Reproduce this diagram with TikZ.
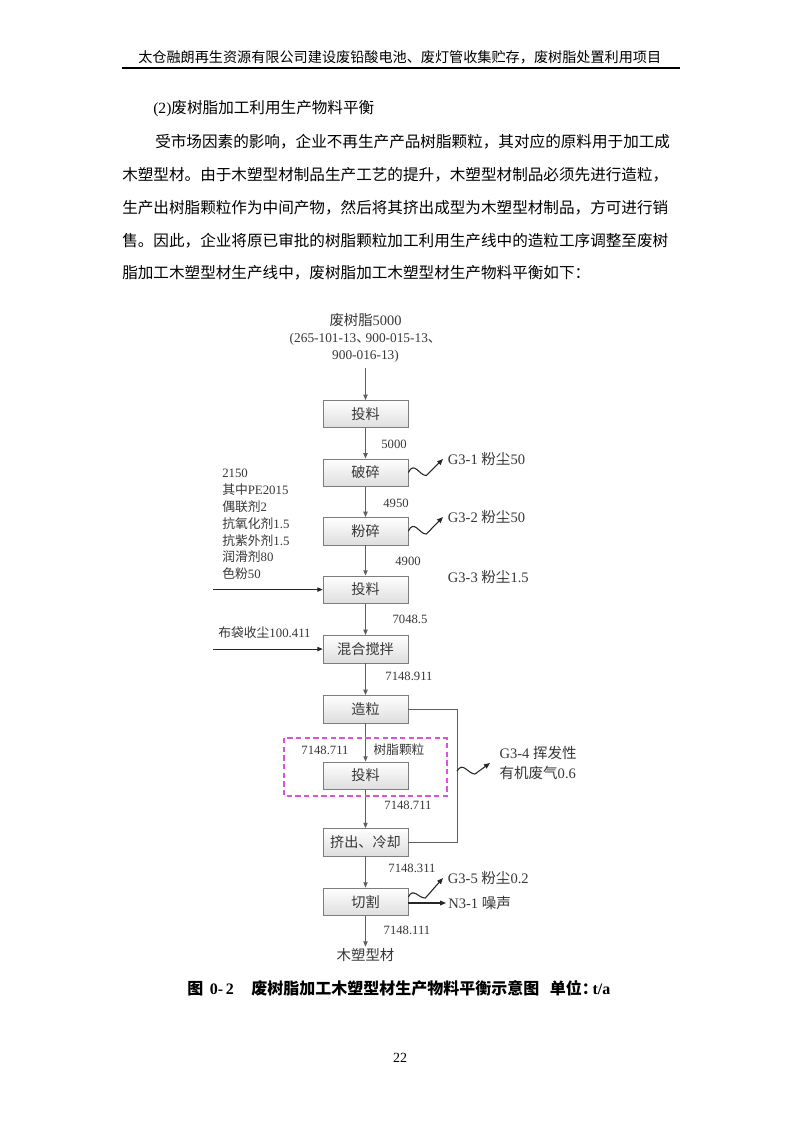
\documentclass[tikz,border=0pt]{standalone}
\usepackage{fontspec}
\setmainfont{Liberation Serif}
\newfontfamily\cjk{Noto Sans CJK SC}
\newcommand{\zh}[1]{{\cjk #1}}
\usepackage{tikz}
\usetikzlibrary{arrows.meta,positioning}
\definecolor{linegray}{RGB}{95,95,95}
\definecolor{textgray}{RGB}{55,55,55}
\definecolor{boxedge}{RGB}{125,125,125}
\definecolor{markpink}{RGB}{222,80,222}

\begin{document}
\begin{tikzpicture}[x=0.75pt, y=-0.75pt,
  procbox/.style={rectangle, draw=boxedge, top color=white, bottom color=black!13,
                  minimum width=63.75pt, minimum height=20.6pt, inner sep=0pt,
                  font=\fontsize{10.6}{12}\selectfont\cjk, text=textgray},
  num/.style={font=\fontsize{9.5}{11}\selectfont, text=textgray, inner sep=1pt},
  gas/.style={font=\fontsize{10.9}{15}\selectfont, text=textgray, anchor=west,
              align=left, inner xsep=3.5pt, inner ysep=1pt},
  flow/.style={-{Triangle[length=4pt,width=3.2pt]}, draw=linegray, line width=0.75pt},
  emit/.style={-{Triangle[length=4.5pt,width=3.6pt]}, draw=black!85, line width=0.8pt},
  body/.style={anchor=west, inner sep=0pt, font=\fontsize{11.7}{14}\selectfont}
]
  \fill[white] (0,0) rectangle (800,1131);
  \useasboundingbox (0,0) rectangle (800,1131);

  % page header
  \node[anchor=west, inner sep=0pt, font=\fontsize{10.6}{12}\selectfont\cjk] (hdr) at (138,57)
    {太仓融朗再生资源有限公司建设废铅酸电池、废灯管收集贮存，废树脂处置利用项目};
  \draw[line width=0.8pt] (122,68) -- (680,68);

  % text above the figure
  \node[body] (ttl) at (153,109) {(2)\zh{废树脂加工利用生产物料平衡}};
  \node[body] (p1) at (155,142) {\zh{受市场因素的影响，企业不再生产产品树脂颗粒，其对应的原料用于加工成}};
  \node[body] (p2) at (122,175) {\zh{木塑型材。由于木塑型材制品生产工艺的提升，木塑型材制品必须先进行造粒，}};
  \node[body] (p3) at (122,208) {\zh{生产出树脂颗粒作为中间产物，然后将其挤出成型为木塑型材制品，方可进行销}};
  \node[body] (p4) at (122,241) {\zh{售。因此，企业将原已审批的树脂颗粒加工利用生产线中的造粒工序调整至废树}};
  \node[body] (p5) at (122,273) {\zh{脂加工木塑型材生产线中，废树脂加工木塑型材生产物料平衡如下：}};

  % main line
  \node[align=center, font=\fontsize{10}{13}\selectfont, text=textgray] (src) at (365.5,338)
    {{\fontsize{10.8}{13}\selectfont\zh{废树脂}5000}\\
     (265-101-13\zh{、}\hspace{-0.3em}900-015-13\zh{、}\hspace{-0.3em}\\900-016-13)};
  \node[procbox] (tl1) at (365.5,414) {投料};
  \node[procbox, below=22.9pt of tl1] (ps) {破碎};
  \node[procbox, below=22.9pt of ps] (fs) {粉碎};
  \node[procbox, below=22.9pt of fs] (tl2) {投料};
  \node[procbox, below=23.6pt of tl2] (hh) {混合搅拌};
  \node[procbox, below=24pt of hh] (zl) {造粒};
  \node[procbox, below=28.9pt of zl] (tl3) {投料};
  \node[procbox, below=28.9pt of tl3] (jc) {挤出、冷却};
  \node[procbox, below=23.6pt of jc] (qg) {切割};
  \node[font=\fontsize{10.8}{12}\selectfont\cjk, text=textgray, inner sep=1pt] (wood) at (365.5,955) {木塑型材};

  \draw[flow] (src) -- (tl1);
  \draw[flow] (tl1) -- (ps);
  \draw[flow] (ps) -- (fs);
  \draw[flow] (fs) -- (tl2);
  \draw[flow] (tl2) -- (hh);
  \draw[flow] (hh) -- (zl);
  \draw[flow] (zl) -- (tl3);
  \draw[flow] (tl3) -- (jc);
  \draw[flow] (jc) -- (qg);
  \draw[flow] (qg) -- (wood);

  % quantities
  \node[num] (m1) at (394,444) {5000};
  \node[num] (m2) at (396,503) {4950};
  \node[num] (m3) at (408,561) {4900};
  \node[num] (m4) at (410,619) {7048.5};
  \node[num] (m5) at (409,676) {7148.911};
  \node[num] (m6) at (325,750) {7148.711};
  \node[num, font=\fontsize{9.5}{11}\selectfont\cjk] (rz) at (399,750) {树脂颗粒};
  \node[num] (m7) at (408,805) {7148.711};
  \node[num] (m8) at (412,868) {7148.311};
  \node[num] (m9) at (407,930) {7148.111};

  \draw[markpink, line width=0.9pt, dash pattern=on 4pt off 2.5pt] (284,738) rectangle (447,796);

  % additives
  \node[num, anchor=west, align=left, inner sep=0pt, font=\fontsize{9.6}{12.6}\selectfont] (add) at (222,524.5)
    {2150\\\zh{其中}PE2015\\\zh{偶联剂}2\\\zh{抗氧化剂}1.5\\\zh{抗紫外剂}1.5\\\zh{润滑剂}80\\\zh{色粉}50};
  \coordinate (in1) at (213,588);
  \draw[flow, draw=black!85] (tl2.west -| in1) -- (tl2.west);
  \node[num, anchor=west, inner sep=0pt, font=\fontsize{9.6}{11}\selectfont] (dust) at (218,633) {\zh{布袋收尘}100.411};
  \coordinate (in2) at (213,647);
  \draw[flow, draw=black!85] (hh.west -| in2) -- (hh.west);

  % emissions
  \node[gas] (g1) at (443,459) {G3-1 \zh{粉尘}50};
  \node[gas] (g2) at (443,517) {G3-2 \zh{粉尘}50};
  \node[gas] (g3) at (443,577) {G3-3 \zh{粉尘}1.5};
  \draw[emit] (ps.east) .. controls +(6,-12) and +(-7,0) .. ++(18,3) -- (g1.west);
  \draw[emit] (fs.east) .. controls +(6,-12) and +(-7,0) .. ++(18,3) -- (g2.west);

  \draw[flow, -] (zl.east) -- ++(49,0) |- (jc.east);
  \coordinate (w4) at (457,771);
  \node[gas, inner xsep=7pt] (g4) at (490,763) {G3-4 \zh{挥发性}\\\zh{有机废气}0.6};
  \draw[emit] (w4) .. controls +(6,-10) and +(-7,0) .. ++(18,3) -- (g4.west);

  \node[gas] (g5) at (443,878) {G3-5 \zh{粉尘}0.2};
  \draw[emit] ([yshift=3.4pt]qg.east) .. controls +(5,-10) and +(-7,0) .. ++(17,1) -- (g5.west);
  \node[gas, inner xsep=1.5pt] (n31) at (446,903) {N3-1 \zh{噪声}};
  \draw[emit] (qg.east |- n31.west) -- (n31.west);

  % caption and page number
  \node[anchor=west, inner sep=0pt, font=\fontsize{12}{14}\selectfont\bfseries] (cap) at (187,988)
    {\zh{图}\hspace{5pt}0-\,2\hspace{13pt}\zh{废树脂加工木塑型材生产物料平衡示意图}\hspace{8pt}\zh{单位：}\hspace{-4pt}t/a};
  \node[font=\fontsize{10.5}{12}\selectfont] (pg) at (400,1058) {22};
\end{tikzpicture}
\end{document}
